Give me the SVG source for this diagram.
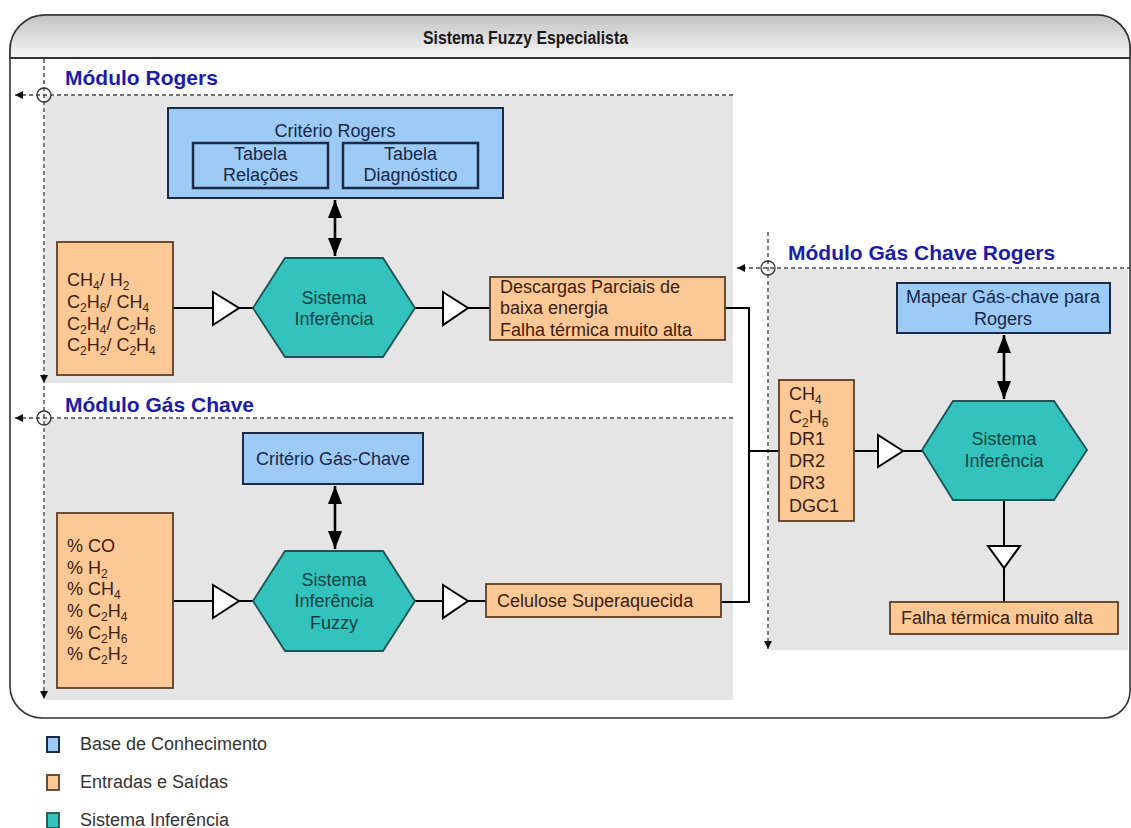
<svg xmlns="http://www.w3.org/2000/svg" width="1131" height="828" viewBox="0 0 1131 828">
  <defs>
    <linearGradient id="hdrGrad" x1="0" y1="0" x2="0" y2="1">
      <stop offset="0" stop-color="#c2c2c2"/>
      <stop offset="1" stop-color="#f6f6f6"/>
    </linearGradient>
    <marker id="dblHead" markerUnits="userSpaceOnUse" markerWidth="20" markerHeight="16" refX="18" refY="7" orient="auto-start-reverse">
      <path d="M0,0 L18,7 L0,14 Z" fill="#000"/>
    </marker>
    <marker id="dashHead" markerUnits="userSpaceOnUse" markerWidth="10" markerHeight="10" refX="8" refY="4" orient="auto">
      <path d="M0,0 L8,4 L0,8 Z" fill="#111"/>
    </marker>
    <style>
      .frame { fill: #fff; stroke: #333; stroke-width: 1.6; }
      .title { font-family: "Liberation Sans", Arial, sans-serif; font-size: 18px; font-weight: bold; fill: #1a1a1a; }
      .modTitle { font-family: "Liberation Sans", Arial, sans-serif; font-size: 21px; font-weight: bold; fill: #1c1caa; }
      .area { fill: #e5e5e5; }
      .guide { fill: none; stroke: #444; stroke-width: 1.4; stroke-dasharray: 4 3; }
      .cross { fill: none; stroke: #333; stroke-width: 1.3; }
      .kb { fill: #9dcbf6; stroke: #1b2a45; stroke-width: 2; }
      .kbInner { fill: #9dcbf6; stroke: #1b2a45; stroke-width: 2.5; }
      .io { fill: #fbc896; stroke: #5b3e26; stroke-width: 1.8; }
      .inf { fill: #33c2bc; stroke: #1d5353; stroke-width: 1.8; }
      .txt { font-family: "Liberation Sans", Arial, sans-serif; font-size: 18px; }
      .kbTxt { fill: #16284a; }
      .ioTxt { fill: #3b2010; }
      .infTxt { fill: #0f4444; }
      .wire { fill: none; stroke: #000; stroke-width: 2; }
      .buf { fill: #fff; stroke: #000; stroke-width: 2; stroke-linejoin: miter; }
      .dbl { fill: none; stroke: #000; stroke-width: 2.6; marker-start: url(#dblHead); marker-end: url(#dblHead); }
      .legTxt { font-family: "Liberation Sans", Arial, sans-serif; font-size: 18px; fill: #333; }
    </style>
  </defs>

  <!-- outer frame with shaded header -->
  <g id="frame">
    <path class="frame" d="M45,15 H1097 A33,33 0 0 1 1130,48 V691 A27,27 0 0 1 1103,718 H42 A32,32 0 0 1 10,686 V50 A35,35 0 0 1 45,15 Z"/>
    <path d="M10,58 V50 A35,35 0 0 1 45,15 H1097 A33,33 0 0 1 1130,48 V58 Z" fill="url(#hdrGrad)" stroke="#333" stroke-width="1.6"/>
    <line x1="10" y1="58" x2="1130" y2="58" stroke="#333" stroke-width="2"/>
    <text class="title" x="423" y="44" textLength="205" lengthAdjust="spacingAndGlyphs">Sistema Fuzzy Especialista</text>
  </g>

  <!-- module panels -->
  <g id="modulo-rogers">
    <rect class="area" x="45" y="96" width="688" height="287"/>
    <text class="modTitle" x="65" y="85">Módulo Rogers</text>
  </g>
  <g id="modulo-gas-chave">
    <rect class="area" x="45" y="419" width="688" height="281"/>
    <text class="modTitle" x="65" y="412">Módulo Gás Chave</text>
  </g>
  <g id="modulo-gas-chave-rogers">
    <rect class="area" x="769" y="269" width="359" height="381"/>
    <text class="modTitle" x="788" y="260">Módulo Gás Chave Rogers</text>
  </g>

  <!-- swimlane guides -->
  <g id="guides">
    <line class="guide" x1="733" y1="95" x2="15" y2="95" marker-end="url(#dashHead)"/>
    <line class="guide" x1="733" y1="418" x2="15" y2="418" marker-end="url(#dashHead)"/>
    <line class="guide" x1="44" y1="59" x2="44" y2="383" marker-end="url(#dashHead)"/>
    <line class="guide" x1="44" y1="386" x2="44" y2="699" marker-end="url(#dashHead)"/>
    <circle class="cross" cx="44" cy="95" r="7"/>
    <circle class="cross" cx="44" cy="418" r="7"/>
    <line class="guide" x1="1131" y1="268" x2="737" y2="268" marker-end="url(#dashHead)"/>
    <line class="guide" x1="768" y1="232" x2="768" y2="649" marker-end="url(#dashHead)"/>
    <circle class="cross" cx="768" cy="268" r="7"/>
  </g>

  <!-- connectors and buffers -->
  <g id="connectors">
    <line class="wire" x1="173" y1="308" x2="213" y2="308"/>
    <polygon class="buf" points="213,292 239,308 213,325"/>
    <line class="wire" x1="239" y1="308" x2="254" y2="308"/>
    <line class="wire" x1="414" y1="308" x2="443" y2="308"/>
    <polygon class="buf" points="443,292 468,308 443,325"/>
    <line class="wire" x1="468" y1="308" x2="490" y2="308"/>
    <polyline class="wire" points="725,308 749,308 749,602 721,602"/>
    <line class="wire" x1="749" y1="451" x2="779" y2="451"/>

    <line class="wire" x1="173" y1="601" x2="213" y2="601"/>
    <polygon class="buf" points="213,585 239,601 213,618"/>
    <line class="wire" x1="239" y1="601" x2="254" y2="601"/>
    <line class="wire" x1="414" y1="601" x2="443" y2="601"/>
    <polygon class="buf" points="443,585 468,601 443,618"/>
    <line class="wire" x1="468" y1="601" x2="486" y2="601"/>

    <line class="wire" x1="854" y1="451" x2="878" y2="451"/>
    <polygon class="buf" points="878,435 903,451 878,467"/>
    <line class="wire" x1="903" y1="451" x2="923" y2="451"/>
    <line class="wire" x1="1004" y1="500" x2="1004" y2="546"/>
    <polygon class="buf" points="988,546 1020,546 1004,568"/>
    <line class="wire" x1="1004" y1="568" x2="1004" y2="602"/>

    <line class="dbl" x1="335" y1="200" x2="335" y2="256"/>
    <line class="dbl" x1="335" y1="486" x2="335" y2="549"/>
    <line class="dbl" x1="1004" y1="335" x2="1004" y2="399"/>
  </g>

  <!-- Módulo Rogers nodes -->
  <g id="criterio-rogers">
    <rect class="kb" x="168" y="108" width="335" height="90"/>
    <text class="txt kbTxt" x="335" y="137" text-anchor="middle">Critério Rogers</text>
  </g>
  <g id="tabela-relacoes">
    <rect class="kbInner" x="193" y="143" width="135" height="45"/>
    <text class="txt kbTxt" x="260.5" y="160" text-anchor="middle">Tabela</text>
    <text class="txt kbTxt" x="260.5" y="181" text-anchor="middle">Relações</text>
  </g>
  <g id="tabela-diagnostico">
    <rect class="kbInner" x="343" y="143" width="135" height="45"/>
    <text class="txt kbTxt" x="410.5" y="160" text-anchor="middle">Tabela</text>
    <text class="txt kbTxt" x="410.5" y="181" text-anchor="middle">Diagnóstico</text>
  </g>
  <g id="entradas-rogers">
    <rect class="io" x="57" y="242" width="116" height="133"/>
    <text class="txt ioTxt" x="67" y="286">CH<tspan font-size="12" dy="4">4</tspan><tspan dy="-4">/ H</tspan><tspan font-size="12" dy="4">2</tspan></text>
    <text class="txt ioTxt" x="67" y="308">C<tspan font-size="12" dy="4">2</tspan><tspan dy="-4">H</tspan><tspan font-size="12" dy="4">6</tspan><tspan dy="-4">/ CH</tspan><tspan font-size="12" dy="4">4</tspan></text>
    <text class="txt ioTxt" x="67" y="330">C<tspan font-size="12" dy="4">2</tspan><tspan dy="-4">H</tspan><tspan font-size="12" dy="4">4</tspan><tspan dy="-4">/ C</tspan><tspan font-size="12" dy="4">2</tspan><tspan dy="-4">H</tspan><tspan font-size="12" dy="4">6</tspan></text>
    <text class="txt ioTxt" x="67" y="351">C<tspan font-size="12" dy="4">2</tspan><tspan dy="-4">H</tspan><tspan font-size="12" dy="4">2</tspan><tspan dy="-4">/ C</tspan><tspan font-size="12" dy="4">2</tspan><tspan dy="-4">H</tspan><tspan font-size="12" dy="4">4</tspan></text>
  </g>
  <g id="inferencia-rogers">
    <polygon class="inf" points="253,308 285,258 383,258 415,308 383,357 285,357"/>
    <text class="txt infTxt" x="334" y="304" text-anchor="middle">Sistema</text>
    <text class="txt infTxt" x="334" y="325" text-anchor="middle">Inferência</text>
  </g>
  <g id="saida-rogers">
    <rect class="io" x="490" y="277" width="235" height="63"/>
    <text class="txt ioTxt" x="500" y="293">Descargas Parciais de</text>
    <text class="txt ioTxt" x="500" y="314">baixa energia</text>
    <text class="txt ioTxt" x="500" y="336">Falha térmica muito alta</text>
  </g>

  <!-- Módulo Gás Chave nodes -->
  <g id="criterio-gas-chave">
    <rect class="kb" x="243" y="433" width="180" height="51"/>
    <text class="txt kbTxt" x="333" y="465" text-anchor="middle">Critério Gás-Chave</text>
  </g>
  <g id="entradas-gas-chave">
    <rect class="io" x="57" y="513" width="116" height="175"/>
    <text class="txt ioTxt" x="67" y="552">% CO</text>
    <text class="txt ioTxt" x="67" y="574">% H<tspan font-size="12" dy="4">2</tspan></text>
    <text class="txt ioTxt" x="67" y="595">% CH<tspan font-size="12" dy="4">4</tspan></text>
    <text class="txt ioTxt" x="67" y="617">% C<tspan font-size="12" dy="4">2</tspan><tspan dy="-4">H</tspan><tspan font-size="12" dy="4">4</tspan></text>
    <text class="txt ioTxt" x="67" y="639">% C<tspan font-size="12" dy="4">2</tspan><tspan dy="-4">H</tspan><tspan font-size="12" dy="4">6</tspan></text>
    <text class="txt ioTxt" x="67" y="660">% C<tspan font-size="12" dy="4">2</tspan><tspan dy="-4">H</tspan><tspan font-size="12" dy="4">2</tspan></text>
  </g>
  <g id="inferencia-gas-chave">
    <polygon class="inf" points="253,601 285,551 383,551 415,601 383,651 285,651"/>
    <text class="txt infTxt" x="334" y="586" text-anchor="middle">Sistema</text>
    <text class="txt infTxt" x="334" y="607" text-anchor="middle">Inferência</text>
    <text class="txt infTxt" x="334" y="629" text-anchor="middle">Fuzzy</text>
  </g>
  <g id="saida-gas-chave">
    <rect class="io" x="486" y="584" width="235" height="33"/>
    <text class="txt ioTxt" x="497" y="607">Celulose Superaquecida</text>
  </g>

  <!-- Módulo Gás Chave Rogers nodes -->
  <g id="mapear-gas-chave">
    <rect class="kb" x="897" y="283" width="213" height="50"/>
    <text class="txt kbTxt" x="1003" y="303" text-anchor="middle">Mapear Gás-chave para</text>
    <text class="txt kbTxt" x="1003" y="325" text-anchor="middle">Rogers</text>
  </g>
  <g id="entradas-gcr">
    <rect class="io" x="779" y="380" width="75" height="141"/>
    <text class="txt ioTxt" x="789" y="400">CH<tspan font-size="12" dy="4">4</tspan></text>
    <text class="txt ioTxt" x="789" y="423">C<tspan font-size="12" dy="4">2</tspan><tspan dy="-4">H</tspan><tspan font-size="12" dy="4">6</tspan></text>
    <text class="txt ioTxt" x="789" y="445">DR1</text>
    <text class="txt ioTxt" x="789" y="467">DR2</text>
    <text class="txt ioTxt" x="789" y="489">DR3</text>
    <text class="txt ioTxt" x="789" y="512">DGC1</text>
  </g>
  <g id="inferencia-gcr">
    <polygon class="inf" points="922,450 953,401 1054,401 1087,450 1054,500 953,500"/>
    <text class="txt infTxt" x="1004" y="445" text-anchor="middle">Sistema</text>
    <text class="txt infTxt" x="1004" y="467" text-anchor="middle">Inferência</text>
  </g>
  <g id="saida-gcr">
    <rect class="io" x="890" y="602" width="228" height="32"/>
    <text class="txt ioTxt" x="901" y="624">Falha térmica muito alta</text>
  </g>

  <!-- legend -->
  <g id="legenda">
    <rect class="kb" x="47" y="737" width="12" height="15" stroke-width="1.5"/>
    <text class="legTxt" x="80" y="750">Base de Conhecimento</text>
    <rect class="io" x="47" y="775" width="12" height="15" stroke-width="1.5"/>
    <text class="legTxt" x="80" y="788">Entradas e Saídas</text>
    <rect class="inf" x="47" y="813" width="12" height="15" stroke-width="1.5"/>
    <text class="legTxt" x="80" y="826">Sistema Inferência</text>
  </g>
</svg>
